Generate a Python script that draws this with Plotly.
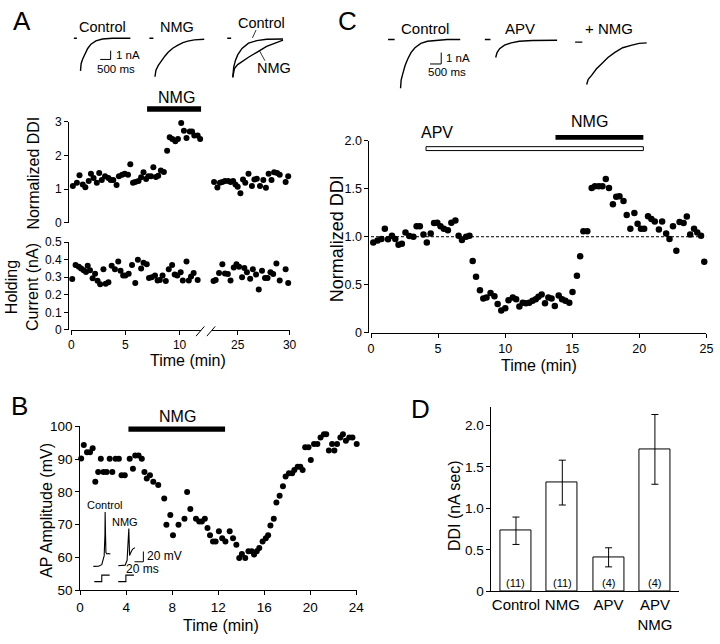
import plotly.graph_objects as go

W, H = 720, 644
FONT = "Liberation Sans, Arial, Helvetica, sans-serif"

# ---------------- Panel A data ----------------
a_ddi_t_left = [0.15, 0.52, 0.76, 1.06, 1.3, 1.61, 1.82, 2.06, 2.36, 2.58, 2.82, 3.12, 3.43, 3.64, 3.88,
                4.18, 4.4, 4.7, 4.94, 5.24, 5.45, 5.7, 5.91, 6.21, 6.45, 6.67, 6.91, 7.12, 7.36, 7.58,
                7.82, 8.03, 8.27, 8.55, 8.85, 9.09, 9.33, 9.61, 9.85, 10.15, 10.4, 10.64, 10.94, 11.15,
                11.36, 11.67, 11.9]
a_ddi_v_left = [1.09, 1.19, 1.41, 1.14, 1.06, 1.24, 1.46, 1.33, 1.19, 1.48, 1.27, 1.38, 1.33, 1.27, 1.27,
                1.12, 1.38, 1.43, 1.46, 1.43, 1.74, 1.19, 1.21, 1.24, 1.35, 1.50, 1.30, 1.38, 1.38, 1.65,
                1.36, 1.40, 1.55, 1.51, 2.14, 2.54, 2.49, 2.42, 2.49, 2.96, 2.73, 2.52, 2.71, 2.71,
                2.59, 2.59, 2.49]
a_ddi_t_right = [22.41, 22.72, 23.04, 23.29, 23.52, 23.77, 24.09, 24.31, 24.56, 24.78, 25.0, 25.26, 25.51,
                 25.73, 26.04, 26.37, 26.61, 26.84, 27.15, 27.47, 27.72, 27.98, 28.26, 28.51, 28.8, 29.05,
                 29.62, 29.87]
a_ddi_v_right = [1.09, 1.21, 1.05, 1.19, 1.21, 1.24, 1.24, 1.21, 1.24, 1.14, 1.07, 0.88, 1.29, 1.19, 1.46,
                 1.09, 1.29, 1.31, 1.09, 1.27, 1.04, 1.46, 1.27, 1.50, 1.48, 1.43, 1.21, 1.38]
a_hold_t_left = [0.09, 0.4, 0.7, 0.91, 1.15, 1.36, 1.52, 1.73, 1.97, 2.2, 2.43, 2.67, 2.97, 3.18, 3.43,
                 3.73, 4.03, 4.34, 4.55, 4.79, 5.0, 5.3, 5.61, 5.91, 6.15, 6.45, 6.67, 6.97, 7.18, 7.43,
                 7.73, 7.97, 8.18, 8.43, 8.73, 9.0, 9.31, 9.55, 9.79, 10.1, 10.3, 10.64, 10.85, 11.06,
                 11.3, 11.67]
a_hold_v_left = [0.29, 0.37, 0.36, 0.35, 0.34, 0.33, 0.365, 0.34, 0.295, 0.32, 0.28, 0.26, 0.345, 0.263,
                 0.272, 0.365, 0.346, 0.39, 0.337, 0.31, 0.31, 0.32, 0.37, 0.267, 0.40, 0.35, 0.383, 0.374,
                 0.296, 0.30, 0.31, 0.282, 0.285, 0.31, 0.278, 0.346, 0.37, 0.315, 0.31, 0.328, 0.282,
                 0.39, 0.282, 0.304, 0.324, 0.285]
a_hold_t_right = [22.41, 22.67, 22.88, 23.2, 23.52, 23.77, 24.05, 24.31, 24.62, 24.88, 25.13, 25.42, 25.64,
                  25.89, 26.2, 26.46, 26.77, 27.03, 27.34, 27.63, 27.88, 28.16, 28.42, 28.73, 29.05, 29.62,
                  29.87]
a_hold_v_right = [0.324, 0.278, 0.285, 0.324, 0.374, 0.322, 0.319, 0.282, 0.356, 0.374, 0.36, 0.30, 0.352,
                  0.328, 0.291, 0.346, 0.315, 0.23, 0.337, 0.296, 0.296, 0.328, 0.319, 0.378, 0.282, 0.346,
                  0.267]
a_nmg_period = [7.0, 12.0]

# Panel A current traces (ms, nA)
a_ctrl_base_t = [47, 189]
a_ctrl_base_i = [0, 0]
a_ctrl_t = [363, 392, 472, 552, 708, 864, 1100, 1416, 1888, 2752]
a_ctrl_i = [-3.71, -2.89, -2.33, -1.89, -1.16, -0.67, -0.30, -0.08, 0.0, 0.0]
a_nmg_base_t = [3667, 3856]
a_nmg_base_i = [0, 0]
a_nmg_t = [3932, 3979, 4092, 4248, 4404, 4564, 4800, 5036, 5272, 5508, 5820, 6292]
a_nmg_i = [-4.38, -3.63, -3.08, -2.52, -2.04, -1.60, -1.11, -0.78, -0.49, -0.33, -0.19, -0.11]
a_ov_base_t = [7396, 7585]
a_ov_base_i = [0, 0]
a_ov_ctrl_t = [7661, 7708, 7788, 7897, 8104, 8416, 8812, 9284, 10070]
a_ov_ctrl_i = [-4.38, -3.27, -2.52, -1.89, -1.16, -0.56, -0.27, -0.11, -0.08]
a_ov_nmg_t = [7661, 7741, 7897, 8104, 8416, 8812, 9284, 9756, 10070]
a_ov_nmg_i = [-4.49, -3.44, -3.00, -2.63, -2.16, -1.60, -0.93, -0.49, -0.22]
a_scale_t = [1307, 1808, 1808]
a_scale_i = [-2.41, -2.41, -1.41]

# ---------------- Panel B data ----------------
b_t = [0.09, 0.32, 0.6, 0.86, 1.09, 1.32, 1.57, 1.8, 2.03, 2.31, 2.57, 2.8, 3.08, 3.37, 3.6, 3.88, 4.31,
       4.59, 4.79, 5.08, 5.36, 5.59, 5.79, 6.07, 6.36, 6.79, 7.31, 7.5, 7.84, 8.07, 8.55, 9.07, 9.3, 9.58,
       10.07, 10.35, 10.58, 10.84, 11.07, 11.29, 11.55, 11.78, 12.06, 12.35, 12.63, 13.0, 13.29, 13.58,
       13.83, 14.06, 14.35, 14.63, 14.92, 15.12, 15.35, 15.57, 15.86, 16.14, 16.34, 16.54, 16.83, 17.06,
       17.34, 17.63, 17.86, 18.15, 18.43, 18.62, 18.91, 19.14, 19.34, 19.56, 19.85, 20.05, 20.33, 20.62,
       20.9, 21.19, 21.39, 21.62, 21.9, 22.1, 22.33, 22.62, 22.84, 23.1, 23.39, 23.67, 24.04]
b_v = [90.2, 94.3, 92.1, 92.1, 93.3, 83.1, 86.1, 90.1, 86.1, 86.1, 90.1, 86.1, 90.1, 90.1, 85.1, 85.1, 90.1,
       87.1, 91.1, 91.1, 90.1, 86.1, 84.1, 85.1, 83.1, 82.1, 78.0, 70.0, 73.0, 66.8, 70.0, 71.8, 80.0, 74.8,
       71.8, 71.0, 71.0, 71.8, 69.0, 66.8, 64.9, 64.9, 68.0, 65.9, 64.9, 68.0, 65.9, 63.9, 59.9, 61.1,
       59.9, 61.9, 61.9, 60.9, 61.9, 62.9, 64.9, 65.9, 66.8, 69.8, 71.8, 76.8, 78.8, 81.7, 84.7, 85.7,
       85.7, 86.7, 87.7, 87.7, 86.7, 93.6, 93.6, 89.7, 94.6, 94.6, 96.6, 97.6, 97.6, 92.6, 94.6, 92.6,
       94.6, 96.6, 97.6, 95.6, 96.6, 96.6, 94.6]
b_nmg_period = [4.2, 12.6]

# Panel B inset AP traces (ms, mV)
b_ctrl_ap_t = [12.7, 24.4, 31.7, 34.9, 37.1, 38.9, 39.3, 40.2, 41.1, 43.3, 46.6, 51.1]
b_ctrl_ap_v = [-1.3, -1.0, 1.9, 11.4, 19.1, 61.0, 104.8, 61.0, 25.7, 22.9, 23.8, 22.9]
b_nmg_ap_t = [68.8, 84.4, 88.8, 91.6, 92.7, 93.7, 94.4, 97.7, 101.5, 106.6]
b_nmg_ap_v = [0.0, 1.0, 10.5, 41.9, 72.4, 41.9, 20.0, 26.7, 32.4, 35.2]
b_ctrl_step_t = [14.9, 31.7, 31.7, 49.5]
b_nmg_step_t = [68.8, 86.1, 86.1, 104.3]
b_step_v = [-31.0, -31.0, -18.5, -18.5]
b_scale_t = [105.5, 125.5, 125.5]
b_scale_v = [7.6, 7.6, 27.6]

# ---------------- Panel C data ----------------
c_t = [0.17, 0.49, 0.78, 1.03, 1.27, 1.56, 1.81, 2.05, 2.3, 2.57, 2.86, 3.16, 3.4, 3.64, 3.91, 4.16, 4.45,
       4.7, 4.94, 5.18, 5.43, 5.73, 5.99, 6.29, 6.53, 6.78, 7.09, 7.34,
       7.58, 7.83, 8.12, 8.37, 8.61, 8.91, 9.2, 9.44, 9.71, 10.01, 10.25, 10.57, 10.82, 11.06, 11.31,
       11.55, 11.79, 12.04, 12.28, 12.48, 12.72, 12.97, 13.22, 13.46, 13.7, 13.99, 14.24, 14.49, 14.78,
       15.02, 15.35,
       15.59, 15.83, 16.12, 16.45, 16.69, 16.98, 17.25, 17.5, 17.74, 18.03, 18.28, 18.52, 18.82, 19.06,
       19.33, 19.63, 19.87, 20.12, 20.36, 20.65, 20.9, 21.15, 21.46, 21.7, 22.0, 22.25, 22.51, 22.76,
       23.0, 23.3, 23.54, 23.79, 24.08, 24.32, 24.6, 24.84]
c_v = [0.94, 0.96, 0.977, 1.084, 0.973, 1.01, 0.977, 0.916, 0.926, 1.044, 1.007, 1.0, 1.108, 1.108, 1.023,
       0.94, 1.033, 1.142, 1.145, 1.108, 1.084, 1.068, 1.145, 1.169, 1.01, 0.967, 1.0, 1.01,
       0.747, 0.585, 0.443, 0.359, 0.369, 0.415, 0.382, 0.301, 0.233, 0.257, 0.341, 0.369, 0.349, 0.274,
       0.314, 0.308, 0.314, 0.334, 0.349, 0.375, 0.399, 0.308, 0.369, 0.359, 0.281, 0.389, 0.349, 0.334,
       0.314, 0.426, 0.595,
       0.797, 1.058, 1.058, 1.507, 1.524, 1.524, 1.524, 1.601, 1.507, 1.337, 1.415, 1.422, 1.372, 1.226,
       1.084, 1.246, 1.135, 1.084, 1.084, 1.213, 1.185, 1.159, 1.074, 1.159, 1.033, 0.977, 1.108, 0.855,
       1.152, 1.142, 1.21, 1.023, 1.084, 1.044, 1.01, 0.74]
c_apv_period = [4.1, 20.3]
c_nmg_period = [13.75, 20.3]
c_baseline = 1.0

# Panel C current traces (ms, nA)
c_ctrl_base_t = [442, 738]
c_apv_base_t = [4787, 5039]
c_nmg_base_t = [8840, 9163]
c_base_i = [0, 0]
c_nmg_base_i = [-0.23, -0.23]
c_ctrl_t = [1003, 1030, 1105, 1207, 1326, 1472, 1649, 1914, 2210, 2652, 3094, 3682]
c_ctrl_i = [-4.27, -3.56, -2.99, -2.28, -1.71, -1.15, -0.72, -0.34, -0.15, -0.06, 0.0, 0.0]
c_apv_t = [5273, 5335, 5450, 5671, 5967, 6334, 6926, 7514, 8031]
c_apv_i = [-1.57, -1.15, -0.80, -0.49, -0.29, -0.15, -0.09, -0.06, -0.06]
c_nmg_t = [9357, 9428, 9578, 9799, 10020, 10312, 10608, 10975, 11346, 11713, 12053]
c_nmg_i = [-3.93, -3.48, -3.14, -2.56, -2.14, -1.57, -1.15, -0.72, -0.51, -0.34, -0.29]
c_scale_t = [2329, 2829, 2829]
c_scale_i = [-2.14, -2.14, -1.14]

# ---------------- Panel D data ----------------
d_categories = ["Control", "NMG", "APV", "APV NMG"]
d_ticktext = ["Control", "NMG", "APV", "APV<br>NMG"]
d_values = [0.73, 1.31, 0.41, 1.71]
d_errors = [0.165, 0.27, 0.115, 0.42]
d_counts = ["(11)", "(11)", "(4)", "(4)"]


# ---------------- helpers ----------------
def xd(a, b):
    return [a / W, b / W]


def yd(top, bottom):
    return [1 - bottom / H, 1 - top / H]


def px(x):
    return x / W


def py(y):
    return 1 - y / H


fig = go.Figure()


def scat(x, y, xa, ya, size=6):
    fig.add_trace(go.Scatter(x=x, y=y, xaxis=xa, yaxis=ya, mode="markers",
                             marker=dict(color="black", size=size), cliponaxis=False,
                             hoverinfo="skip"))


def line(x, y, xa, ya, w=1.2):
    fig.add_trace(go.Scatter(x=x, y=y, xaxis=xa, yaxis=ya, mode="lines",
                             line=dict(color="black", width=w), hoverinfo="skip"))


# A
scat(a_ddi_t_left, a_ddi_v_left, "x", "y2")
scat(a_ddi_t_right, a_ddi_v_right, "x2", "y2")
scat(a_hold_t_left, a_hold_v_left, "x", "y")
scat(a_hold_t_right, a_hold_v_right, "x2", "y")
for tx, iy in [(a_ctrl_base_t, a_ctrl_base_i), (a_ctrl_t, a_ctrl_i), (a_nmg_base_t, a_nmg_base_i),
               (a_nmg_t, a_nmg_i), (a_ov_base_t, a_ov_base_i), (a_ov_ctrl_t, a_ov_ctrl_i),
               (a_ov_nmg_t, a_ov_nmg_i)]:
    line(tx, iy, "x6", "y6", 1.4)
line(a_scale_t, a_scale_i, "x6", "y6", 1.0)

# B
scat(b_t, b_v, "x3", "y3")
for tx, vy in [(b_ctrl_ap_t, b_ctrl_ap_v), (b_nmg_ap_t, b_nmg_ap_v),
               (b_ctrl_step_t, b_step_v), (b_nmg_step_t, b_step_v)]:
    line(tx, vy, "x8", "y8", 1.1)
line(b_scale_t, b_scale_v, "x8", "y8", 1.0)

# C
scat(c_t, c_v, "x4", "y4", 6.5)
for tx, iy in [(c_ctrl_base_t, c_base_i), (c_ctrl_t, c_ctrl_i), (c_apv_base_t, c_base_i),
               (c_apv_t, c_apv_i), (c_nmg_base_t, c_nmg_base_i), (c_nmg_t, c_nmg_i)]:
    line(tx, iy, "x7", "y7", 1.4)
line(c_scale_t, c_scale_i, "x7", "y7", 1.0)

# D
fig.add_trace(go.Bar(x=d_categories, y=d_values, xaxis="x5", yaxis="y5", width=0.67,
                     marker=dict(color="white", line=dict(color="black", width=1)),
                     error_y=dict(type="data", array=d_errors, color="black", thickness=1, width=3.5),
                     hoverinfo="skip"))


def tf(size):
    return dict(family=FONT, size=size, color="black")


base_ax = dict(showline=True, linecolor="black", linewidth=1, ticks="outside", ticklen=4,
               tickwidth=1, tickcolor="black", showgrid=False, zeroline=False, tickfont=tf(12))
hidden = dict(visible=False, showgrid=False, zeroline=False)

fig.update_layout(
    width=W, height=H, margin=dict(l=0, r=0, t=0, b=0),
    paper_bgcolor="white", plot_bgcolor="rgba(0,0,0,0)", showlegend=False,
    font=dict(family=FONT, color="black"),
    bargap=0,
    xaxis=dict(base_ax, domain=xd(68.3, 200.3), range=[0, 12], anchor="y", tickvals=[0, 5, 10]),
    xaxis2=dict(base_ax, domain=xd(211, 290), range=[22.5, 30], anchor="y", tickvals=[25, 30]),
    yaxis=dict(base_ax, domain=yd(240.7, 330.7), range=[0, 0.5], anchor="free", position=px(65),
               tickvals=[0, 0.1, 0.2, 0.3, 0.4, 0.5], ticktext=["0", "0.1", "0.2", "0.3", "0.4", "0.5"]),
    yaxis2=dict(base_ax, domain=yd(117.5, 221), range=[0, 3], anchor="free", position=px(65),
                tickvals=[0, 1, 2, 3]),
    xaxis3=dict(base_ax, domain=xd(77.3, 358.3), range=[0, 24.05], anchor="y3",
                tickvals=[0, 4, 8, 12, 16, 20, 24], tickfont=tf(13.5)),
    yaxis3=dict(base_ax, domain=yd(429.3, 597.3), range=[50, 100], anchor="x3",
                tickvals=[50, 60, 70, 80, 90, 100], tickfont=tf(13.5)),
    xaxis4=dict(base_ax, domain=xd(372.7, 713.3), range=[0, 25], anchor="y4",
                tickvals=[0, 5, 10, 15, 20, 25], tickfont=tf(12.5)),
    yaxis4=dict(base_ax, domain=yd(136.7, 333.7), range=[0, 2], anchor="free", position=px(370),
                tickvals=[0, 0.5, 1, 1.5, 2], ticktext=["0", "0.5", "1.0", "1.5", "2.0"],
                tickfont=tf(12.5)),
    xaxis5=dict(base_ax, domain=xd(495, 685), range=[-0.53, 3.51], anchor="y5", ticks="",
                type="category", tickvals=d_categories, ticktext=d_ticktext, tickfont=tf(15)),
    yaxis5=dict(base_ax, domain=yd(410, 598.3), range=[0, 2.215], anchor="x5",
                tickvals=[0, 0.5, 1, 1.5, 2], ticktext=["0", "0.5", "1.0", "1.5", "2.0"],
                tickfont=tf(13.5)),
    xaxis6=dict(hidden, domain=xd(70, 300), range=[0, 10856], anchor="y6"),
    yaxis6=dict(hidden, domain=yd(20, 80), range=[-5.333, 1.333], anchor="x6"),
    xaxis7=dict(hidden, domain=xd(380, 670), range=[0, 12818], anchor="y7"),
    yaxis7=dict(hidden, domain=yd(25, 95), range=[-5.274, 0.709], anchor="x7"),
    xaxis8=dict(hidden, domain=xd(85, 160), range=[0, 166.5], anchor="y8"),
    yaxis8=dict(hidden, domain=yd(505, 595), range=[-43.8, 127.6], anchor="x8"),
)

shapes = []
# treatment bars
shapes.append(dict(type="rect", xref="x", yref="paper", x0=a_nmg_period[0], x1=a_nmg_period[1],
                   y0=py(107.3), y1=py(101.7), fillcolor="black", line=dict(width=0)))
shapes.append(dict(type="rect", xref="x3", yref="paper", x0=b_nmg_period[0], x1=b_nmg_period[1],
                   y0=py(435), y1=py(429.5), fillcolor="black", line=dict(width=0)))
shapes.append(dict(type="rect", xref="x4", yref="paper", x0=c_apv_period[0], x1=c_apv_period[1],
                   y0=py(147), y1=py(143), fillcolor="white", line=dict(color="black", width=1)))
shapes.append(dict(type="rect", xref="x4", yref="paper", x0=c_nmg_period[0], x1=c_nmg_period[1],
                   y0=py(136), y1=py(131), fillcolor="black", line=dict(width=0)))
# baseline dashed line in C
shapes.append(dict(type="line", xref="x4", yref="y4", x0=0, x1=25, y0=c_baseline, y1=c_baseline,
                   line=dict(color="black", width=1, dash="3px,2px")))
# axis break marks
for x0 in (195, 206):
    shapes.append(dict(type="line", xref="paper", yref="paper", x0=px(x0), x1=px(x0 + 8.5),
                       y0=py(337), y1=py(327), line=dict(color="black", width=1)))
# pointer lines in overlay
shapes.append(dict(type="line", xref="paper", yref="paper", x0=px(256), y0=py(23.5), x1=px(252.3),
                   y1=py(31.7), line=dict(color="black", width=0.8)))
shapes.append(dict(type="line", xref="paper", yref="paper", x0=px(265), y0=py(55), x1=px(259.3),
                   y1=py(44.5), line=dict(color="black", width=0.8)))

ann = []


def txt(text, x, y, size=14, xref="paper", yref="paper", angle=0, xanchor="center", yanchor="middle"):
    ann.append(dict(text=text, x=x, y=y, xref=xref, yref=yref, showarrow=False, textangle=angle,
                    font=tf(size), xanchor=xanchor, yanchor=yanchor))


# panel letters
txt("A", px(18), py(14), 26)
txt("B", px(16), py(409), 26)
txt("C", px(349), py(14), 26)
txt("D", px(423), py(412), 26)
# A labels
txt("Control", px(100), py(20.7), 14.5)
txt("NMG", px(176), py(20.7), 14.5)
txt("Control", px(262), py(16.7), 14.5)
txt("NMG", px(274), py(62), 14.5)
txt("1 nA", px(111.5), py(49.3), 11.5, xanchor="left")
txt("500 ms", px(113.3), py(63.5), 11.5)
txt("NMG", px(175), py(93), 16)
txt("Normalized DDI", px(29), py(170), 16, angle=-90)
txt("Holding<br>Current (nA)", px(19), py(287), 16, angle=-90)
txt("Time (min)", px(187), py(362), 16)
# B labels
txt("NMG", px(176), py(419), 16)
txt("AP Amplitude (mV)", px(42.5), py(515), 16, angle=-90)
txt("Time (min)", px(220), py(633), 16)
txt("Control", px(101.7), py(509.5), 11)
txt("NMG", px(123), py(527), 11)
txt("20 mV", px(143.5), py(562), 12, xanchor="left")
txt("20 ms", px(141), py(575.5), 12)
# C labels
txt("Control", px(427.5), py(21.7), 15)
txt("APV", px(524), py(21.7), 15)
txt("+ NMG", px(614), py(21.7), 15)
txt("1 nA", px(446.5), py(52.5), 11.5, xanchor="left")
txt("500 ms", px(449.5), py(66.5), 11.5)
txt("APV", px(440), py(129), 16)
txt("NMG", px(595), py(117), 16)
txt("Normalized DDI", px(339), py(237), 18, angle=-90)
txt("Time (min)", px(543), py(367), 16)
# D labels
txt("DDI (nA sec)", px(457), py(511), 16, angle=-90)
for cat, cnt in zip(d_categories, d_counts):
    txt(cnt, cat, py(589.3), 11, xref="x5")

fig.update_layout(annotations=ann, shapes=shapes)

fig.write_html("out.html", config={"displayModeBar": False},
               post_script="document.body.style.margin='0px';")
